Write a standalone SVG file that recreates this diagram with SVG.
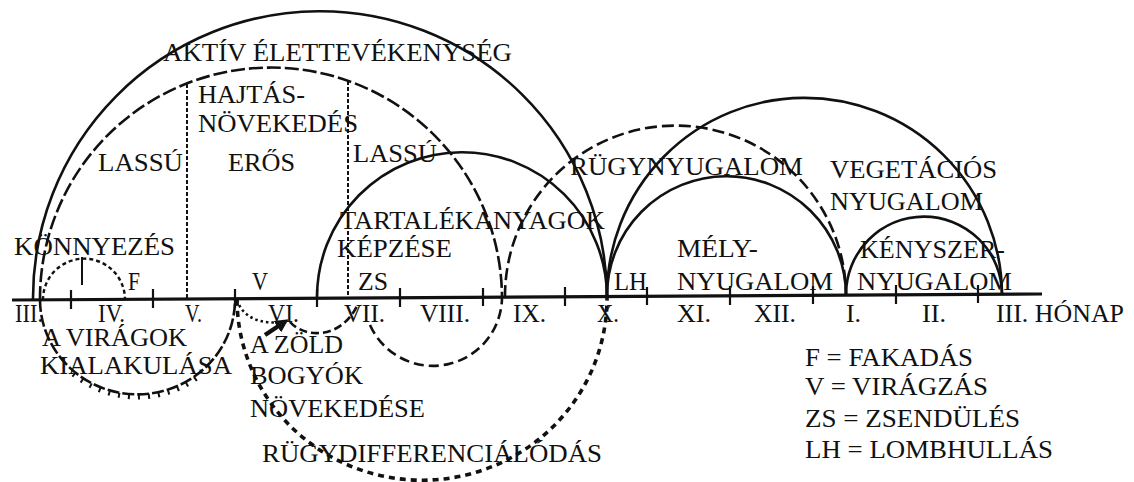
<svg xmlns="http://www.w3.org/2000/svg" width="1134" height="482" viewBox="0 0 1134 482">
<style>
  text { font-family: 'Liberation Serif', 'Times New Roman', serif; font-size: 25px; fill: #111; }
  .solid { fill: none; stroke: #111; stroke-width: 2.6; }
  .dash { fill: none; stroke: #111; stroke-width: 2.6; stroke-dasharray: 14 4; }
  .dash2 { fill: none; stroke: #111; stroke-width: 2.6; stroke-dasharray: 12 5; }
  .vdash { fill: none; stroke: #111; stroke-width: 2; stroke-dasharray: 4 2; }
  .short { fill: none; stroke: #111; stroke-width: 2.4; stroke-dasharray: 4 3; }
  .dot { fill: none; stroke: #111; stroke-width: 2.6; stroke-dasharray: 2.5 3; }
  .thick { fill: none; stroke: #111; stroke-width: 3.6; stroke-dasharray: 6 5; }
  .tick { stroke: #111; stroke-width: 2.2; }
</style>
<defs>
  <marker id="head" viewBox="0 0 10 10" refX="5" refY="5" markerWidth="3" markerHeight="3" orient="auto">
    <path d="M0,0 L10,5 L0,10 Z" fill="#111"/>
  </marker>
</defs>
<rect width="1134" height="482" fill="#fff"/>

<g id="axis">
  <line x1="12" y1="300" x2="1042" y2="294" stroke="#111" stroke-width="3.2"/>
  <g id="ticks">
    <line class="tick" x1="71" y1="290" x2="71" y2="309"/>
    <line class="tick" x1="153" y1="289" x2="153" y2="308"/>
    <line class="tick" x1="235" y1="289" x2="235" y2="308"/>
    <line class="tick" x1="317" y1="289" x2="317" y2="307"/>
    <line class="tick" x1="400" y1="288" x2="400" y2="307"/>
    <line class="tick" x1="483" y1="288" x2="483" y2="306"/>
    <line class="tick" x1="565" y1="287" x2="565" y2="306"/>
    <line class="tick" x1="647" y1="287" x2="647" y2="305"/>
    <line class="tick" x1="730" y1="286" x2="730" y2="305"/>
    <line class="tick" x1="813" y1="286" x2="813" y2="304"/>
    <line class="tick" x1="896" y1="285" x2="896" y2="304"/>
    <line class="tick" x1="978" y1="285" x2="978" y2="303"/>
  </g>
  <g id="months">
    <text x="15" y="322" textLength="28" lengthAdjust="spacingAndGlyphs">III.</text>
    <text x="98" y="322" textLength="27" lengthAdjust="spacingAndGlyphs">IV.</text>
    <text x="185" y="322" textLength="17" lengthAdjust="spacingAndGlyphs">V.</text>
    <text x="268" y="322" textLength="31" lengthAdjust="spacingAndGlyphs">VI.</text>
    <text x="344" y="322" textLength="41" lengthAdjust="spacingAndGlyphs">VII.</text>
    <text x="420" y="322" textLength="50" lengthAdjust="spacingAndGlyphs">VIII.</text>
    <text x="513" y="322" textLength="33" lengthAdjust="spacingAndGlyphs">IX.</text>
    <text x="597" y="322" textLength="22" lengthAdjust="spacingAndGlyphs">X.</text>
    <text x="677" y="322" textLength="34" lengthAdjust="spacingAndGlyphs">XI.</text>
    <text x="754" y="322" textLength="42" lengthAdjust="spacingAndGlyphs">XII.</text>
    <text x="846" y="322" textLength="15" lengthAdjust="spacingAndGlyphs">I.</text>
    <text x="922" y="322" textLength="24" lengthAdjust="spacingAndGlyphs">II.</text>
    <text x="996" y="322" textLength="128" lengthAdjust="spacingAndGlyphs">III. HÓNAP</text>
  </g>
</g>

<g id="connectors">
  <path id="arc-aktiv" class="solid" d="M33,300 A287,287 0 0 1 607,296.5"/>
  <path id="arc-hajtas" class="dash" d="M40,300 A231,231 0 0 1 502,297"/>
  <path id="div-1" class="vdash" d="M187,84 L187,299"/>
  <path id="div-2" class="vdash" d="M348,81 L348,298"/>
  <path id="arc-tartalek" class="solid" d="M317,298 A145,145 0 0 1 607,296.5"/>
  <path id="arc-rugynyugalom" class="dash2" d="M505,297 A170.5,170.5 0 0 1 846,295"/>
  <path id="arc-vegetacios" class="solid" d="M607,296.5 A197.5,197.5 0 0 1 1002,294.2"/>
  <path id="arc-mely" class="solid" d="M607,296.5 A119.5,119.5 0 0 1 846,295"/>
  <path id="arc-kenyszer" class="solid" d="M846,295 A78,78 0 0 1 1002,294.2"/>
  <path id="arc-konnyezes" class="short" d="M43,300 A41,41 0 0 1 125,299.3"/>
  <line x1="82" y1="257" x2="82" y2="285" stroke="#111" stroke-width="2"/>
  <path id="arc-viragok" fill="none" stroke="#111" stroke-width="2.6" stroke-dasharray="12 3" d="M40,300 A97.5,95 0 0 0 235,298.7"/>
  <path id="arc-viragok-hatch" fill="none" stroke="#111" stroke-width="5" stroke-dasharray="2 8" d="M73.2,374.1 A100,98 0 0 0 201.8,374.1"/>
  <path id="arc-zold-dot" class="dot" d="M237,300 C243,318 262,326 286,321"/>
  <path id="arc-zold-dash" fill="none" stroke="#111" stroke-width="2.6" stroke-dasharray="8 4" d="M290,322 C304,338 340,340 357,306"/>
  <path id="arrow-zold" fill="none" stroke="#111" stroke-width="4.5" d="M265,335 L283,323" marker-end="url(#head)"/>
  <path id="arc-lower-vii-ix" fill="none" stroke="#111" stroke-width="2.6" stroke-dasharray="10 5" d="M370,325 A69,69 0 0 0 502,297"/>
  <path id="arc-rugydiff" class="thick" d="M237,300 A185,182 0 0 0 607,296.5"/>
</g>

<g id="labels">
  <g id="n-aktiv"><text x="163" y="61" textLength="349" lengthAdjust="spacingAndGlyphs">AKTÍV ÉLETTEVÉKENYSÉG</text></g>
  <g id="n-hajtas"><text x="198" y="103" textLength="107" lengthAdjust="spacingAndGlyphs">HAJTÁS-</text><text x="198" y="132" textLength="160" lengthAdjust="spacingAndGlyphs">NÖVEKEDÉS</text></g>
  <g id="n-lassu1"><text x="98" y="171" textLength="85" lengthAdjust="spacingAndGlyphs">LASSÚ</text></g>
  <g id="n-eros"><text x="228" y="171" textLength="67" lengthAdjust="spacingAndGlyphs">ERŐS</text></g>
  <g id="n-lassu2"><text x="353" y="162" textLength="84" lengthAdjust="spacingAndGlyphs">LASSÚ</text></g>
  <g id="n-tartalek"><text x="340" y="229" textLength="265" lengthAdjust="spacingAndGlyphs">TARTALÉKANYAGOK</text><text x="337" y="257" textLength="115" lengthAdjust="spacingAndGlyphs">KÉPZÉSE</text></g>
  <g id="n-zs"><text x="358" y="290" textLength="30" lengthAdjust="spacingAndGlyphs">ZS</text></g>
  <g id="n-v"><text x="252" y="290" textLength="16" lengthAdjust="spacingAndGlyphs">V</text></g>
  <g id="n-f"><text x="128" y="290" textLength="12" lengthAdjust="spacingAndGlyphs">F</text></g>
  <g id="n-konnyezes"><text x="14" y="255" textLength="161" lengthAdjust="spacingAndGlyphs">KÖNNYEZÉS</text></g>
  <g id="n-lh"><text x="614" y="290" textLength="33" lengthAdjust="spacingAndGlyphs">LH</text></g>
  <g id="n-rugynyugalom"><text x="570" y="175" textLength="233" lengthAdjust="spacingAndGlyphs">RÜGYNYUGALOM</text></g>
  <g id="n-vegetacios"><text x="830" y="178" textLength="167" lengthAdjust="spacingAndGlyphs">VEGETÁCIÓS</text><text x="830" y="210" textLength="153" lengthAdjust="spacingAndGlyphs">NYUGALOM</text></g>
  <g id="n-mely"><text x="677" y="257" textLength="81" lengthAdjust="spacingAndGlyphs">MÉLY-</text><text x="677" y="290" textLength="156" lengthAdjust="spacingAndGlyphs">NYUGALOM</text></g>
  <g id="n-kenyszer"><text x="860" y="258" textLength="145" lengthAdjust="spacingAndGlyphs">KÉNYSZER-</text><text x="857" y="290" textLength="155" lengthAdjust="spacingAndGlyphs">NYUGALOM</text></g>
  <g id="n-viragok"><text x="42" y="346" textLength="145" lengthAdjust="spacingAndGlyphs">A VIRÁGOK</text><text x="40" y="374" textLength="192" lengthAdjust="spacingAndGlyphs">KIALAKULÁSA</text></g>
  <g id="n-zold"><text x="250" y="353" textLength="93" lengthAdjust="spacingAndGlyphs">A ZÖLD</text><text x="250" y="384" textLength="113" lengthAdjust="spacingAndGlyphs">BOGYÓK</text><text x="250" y="417" textLength="175" lengthAdjust="spacingAndGlyphs">NÖVEKEDÉSE</text></g>
  <g id="n-rugydiff"><text x="262" y="462" textLength="340" lengthAdjust="spacingAndGlyphs">RÜGYDIFFERENCIÁLÓDÁS</text></g>
  <g id="legend">
    <text x="805" y="366" textLength="168" lengthAdjust="spacingAndGlyphs">F = FAKADÁS</text>
    <text x="805" y="395" textLength="183" lengthAdjust="spacingAndGlyphs">V = VIRÁGZÁS</text>
    <text x="805" y="427" textLength="215" lengthAdjust="spacingAndGlyphs">ZS = ZSENDÜLÉS</text>
    <text x="805" y="458" textLength="248" lengthAdjust="spacingAndGlyphs">LH = LOMBHULLÁS</text>
  </g>
</g>
</svg>
